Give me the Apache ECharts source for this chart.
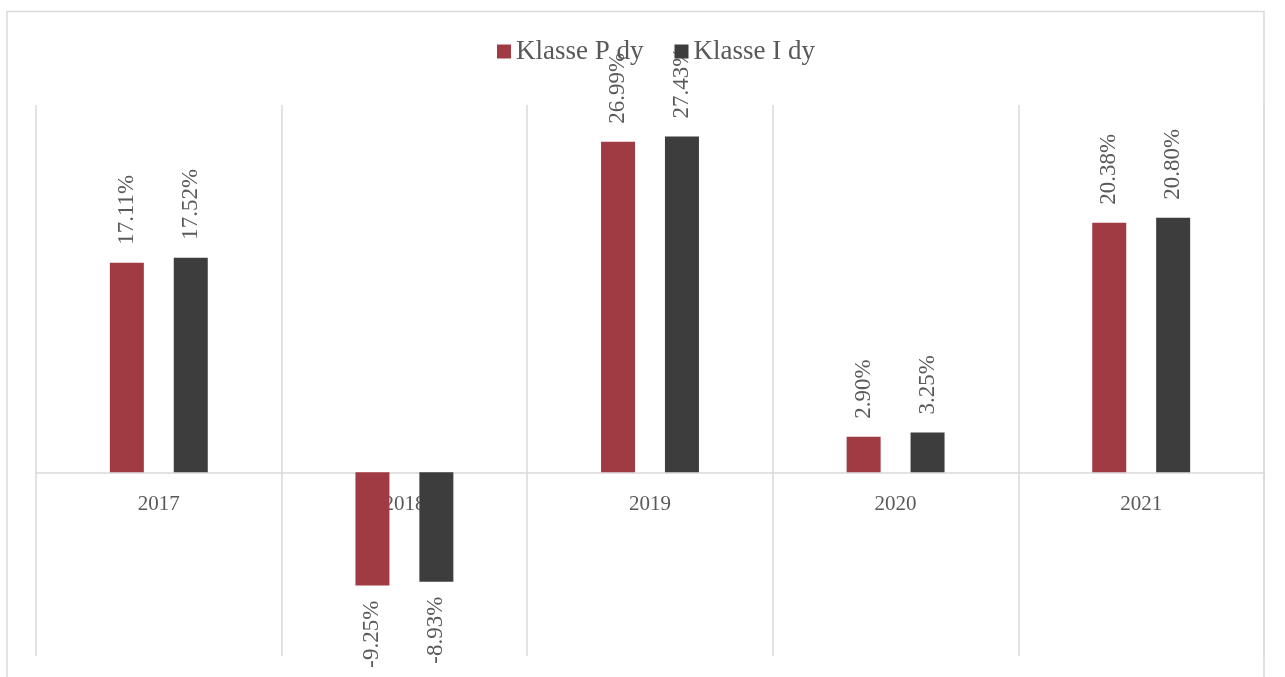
<!DOCTYPE html>
<html><head><meta charset="utf-8">
<script src="https://cdn.jsdelivr.net/npm/echarts@6/dist/echarts.min.js"></script>
<style>html,body{margin:0;padding:0;background:#fff}#c{width:1285px;height:677px}</style>
</head><body><div id="c"></div>
<script>
const categories = ['2017', '2018', '2019', '2020', '2021'];
const seriesNames = ['Klasse P dy', 'Klasse I dy'];
const klassePdy = [17.11, -9.25, 26.99, 2.90, 20.38];
const klasseIdy = [17.52, -8.93, 27.43, 3.25, 20.80];
const colors = ['#A13B43', '#3D3D3D'];

const FONT = '"Liberation Serif", "DejaVu Serif", serif';
const Y_MIN = -15, Y_MAX = 30;
const GRID = { left: 36, right: 21, top: 105, bottom: 21 };
const gridH = 677 - GRID.top - GRID.bottom;
const zeroOffset = (0 - Y_MIN) / (Y_MAX - Y_MIN) * gridH;

function toData(arr) {
  return arr.map(v => v >= 0 ? { value: v } : {
    value: v,
    label: { position: 'bottom', align: 'right', distance: 15 }
  });
}
function mkSeries(name, arr, color) {
  return {
    name: name, type: 'bar', data: toData(arr), barWidth: 34, barGap: '88%',
    itemStyle: { color: color },
    label: {
      show: true, position: 'top', rotate: 90, align: 'left', verticalAlign: 'middle',
      distance: 18, color: '#595959', fontFamily: FONT, fontSize: 23,
      formatter: p => p.value.toFixed(2) + '%'
    },
    z: 2
  };
}
const chart = echarts.init(document.getElementById('c'));
chart.setOption({
  animation: false,
  backgroundColor: '#fff',
  color: colors,
  legend: {
    data: seriesNames, top: 38, left: 493, icon: 'rect', itemWidth: 14, itemHeight: 14,
    itemGap: 31, padding: [0, 4, 0, 4], z: 10,
    textStyle: { color: '#595959', fontFamily: FONT, fontSize: 27 }
  },
  grid: Object.assign({ containLabel: false, outerBoundsMode: 'none' }, GRID),
  xAxis: {
    type: 'category', data: categories, offset: -zeroOffset,
    axisLine: { onZero: false, lineStyle: { color: '#D9D9D9', width: 1.5 } },
    axisTick: { show: false },
    axisLabel: { margin: 22, color: '#595959', fontFamily: FONT, fontSize: 21 },
    splitLine: { show: true, lineStyle: { color: '#D9D9D9', width: 1.5 } }
  },
  yAxis: {
    type: 'value', min: Y_MIN, max: Y_MAX, interval: 5, show: true,
    axisLine: { show: false }, axisTick: { show: false }, axisLabel: { show: false },
    splitLine: { show: false }
  },
  graphic: [{
    type: 'polyline', silent: true, z: -1,
    shape: { points: [[7, 700], [7, 11.5], [1264, 11.5], [1264, 700]] },
    style: { fill: null, stroke: '#D9D9D9', lineWidth: 1.5 }
  }],
  series: [mkSeries(seriesNames[0], klassePdy, colors[0]), mkSeries(seriesNames[1], klasseIdy, colors[1])]
});
</script></body></html>
